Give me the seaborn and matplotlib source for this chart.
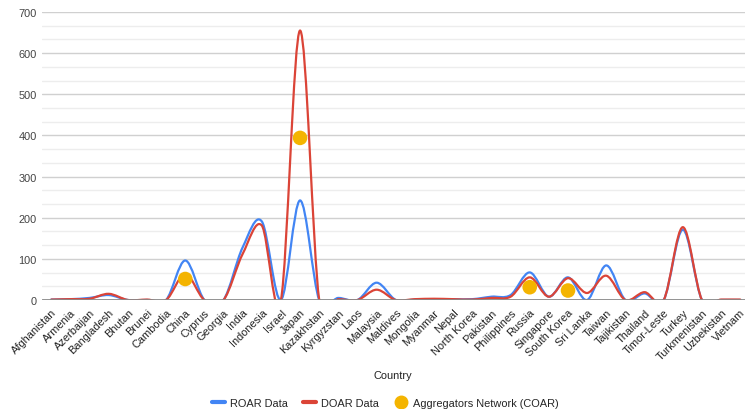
import numpy as np
import pandas as pd
import matplotlib
matplotlib.use("Agg")
import matplotlib.pyplot as plt
import seaborn as sns
from matplotlib.path import Path
from matplotlib.patches import PathPatch
from matplotlib.lines import Line2D
from matplotlib.ticker import MultipleLocator
from matplotlib.transforms import ScaledTranslation

# Datos
countries = ["Afghanistan", "Armenia", "Azerbaijan", "Bangladesh", "Bhutan", "Brunei",
             "Cambodia", "China", "Cyprus", "Georgia", "India", "Indonesia", "Israel",
             "Japan", "Kazakhstan", "Kyrgyzstan", "Laos", "Malaysia", "Maldives",
             "Mongolia", "Myanmar", "Nepal", "North Korea", "Pakistan", "Philippines",
             "Russia", "Singapore", "South Korea", "Sri Lanka", "Taiwan", "Tajikistan",
             "Thailand", "Timor-Leste", "Turkey", "Turkmenistan", "Uzbekistan", "Vietnam"]
roar = [1, 2, 5, 12, 0, 0, 0, 96, 0, 0, 128, 191, 0, 242, 0, 5, 0, 42, 0,
        1, 2, 2, 2, 8, 12, 67, 8, 55, 0, 84, 0, 16, 0, 171, 0, 0, 0]
doar = [1, 2, 3, 15, 0, 1, 0, 63, 0, 0, 112, 181, 0, 655, 0, 2, 0, 25, 0,
        2, 3, 2, 1, 5, 8, 55, 8, 53, 17, 59, 0, 19, 0, 177, 0, 1, 1]
coar = {"China": 51, "Japan": 394, "Russia": 31, "South Korea": 23}

BLUE = "#4285F4"
RED = "#DB4437"
YELLOW = "#F4B400"
FS = 7.9

df = pd.DataFrame({"country": countries, "roar": roar, "doar": doar})
df["pos"] = np.arange(len(df))
df["coar"] = df["country"].map(coar)

sns.set_theme(style="white")
plt.rcParams['font.family'] = ['Liberation Sans', 'DejaVu Sans']


def smooth_path(xs, ys):
    # curva tipo Catmull-Rom pasando por los puntos
    n = len(xs)
    verts = [(xs[0], ys[0])]
    codes = [Path.MOVETO]
    for i in range(n - 1):
        a = max(i - 1, 0)
        b = min(i + 2, n - 1)
        c1 = (xs[i] + (xs[i + 1] - xs[a]) / 6, ys[i] + (ys[i + 1] - ys[a]) / 6)
        c2 = (xs[i + 1] - (xs[b] - xs[i]) / 6, ys[i + 1] - (ys[b] - ys[i]) / 6)
        verts += [c1, c2, (xs[i + 1], ys[i + 1])]
        codes += [Path.CURVE4] * 3
    return Path(verts, codes)


fig = plt.figure(figsize=(7.49, 4.10), dpi=100)
ax = fig.add_axes([0.0557, 0.2659, 0.939, 0.7024])

for col, color in [("roar", BLUE), ("doar", RED)]:
    p = smooth_path(df["pos"].values.astype(float), df[col].values.astype(float))
    ax.add_patch(PathPatch(p, fill=False, edgecolor=color, lw=1.6, zorder=3,
                           capstyle="round", joinstyle="round"))

sns.scatterplot(data=df.dropna(subset=["coar"]), x="pos", y="coar", color=YELLOW,
                s=110, edgecolor="none", zorder=6, ax=ax, legend=False)

ax.axhline(0, color="#8a8a8a", lw=2, zorder=4)

ax.set_xlim(-0.5, 36.25)
ax.set_ylim(0, 700)
ax.yaxis.set_major_locator(MultipleLocator(100))
ax.yaxis.set_minor_locator(MultipleLocator(100 / 3))
ax.grid(which="major", axis="y", color="#d0d0d0", lw=1)
ax.grid(which="minor", axis="y", color="#ededed", lw=1)
ax.grid(False, axis="x")
ax.set_axisbelow(True)
for s in ax.spines.values():
    s.set_visible(False)

ax.set_xticks(df["pos"])
ax.set_xticklabels(countries, rotation=45, ha="right", va="top",
                   rotation_mode="anchor", fontsize=FS, color="#222222")
shift = ScaledTranslation(3 / 100, 0, fig.dpi_scale_trans)
for lbl in ax.get_xticklabels():
    lbl.set_transform(lbl.get_transform() + shift)
ax.tick_params(axis="x", length=0, pad=5)
ax.tick_params(axis="y", length=0, pad=3.5, labelsize=FS, labelcolor="#444444")
ax.tick_params(axis="y", which="minor", length=0)
ax.set_xlabel("")
ax.set_ylabel("")

fig.text(0.5247, 0.083, "Country", ha="center", va="center", fontsize=FS, color="#222222")

handles = [Line2D([], [], color=BLUE, lw=3),
           Line2D([], [], color=RED, lw=3),
           Line2D([], [], color=YELLOW, marker="o", linestyle="", markersize=9)]
fig.legend(handles, ["ROAR Data", "DOAR Data", "Aggregators Network (COAR)"],
           loc="center", bbox_to_anchor=(0.514, 0.015), ncol=3, frameon=False,
           fontsize=FS, handlelength=1.2, handletextpad=0.45, columnspacing=1.4)

fig.savefig("out.png", dpi=100)
